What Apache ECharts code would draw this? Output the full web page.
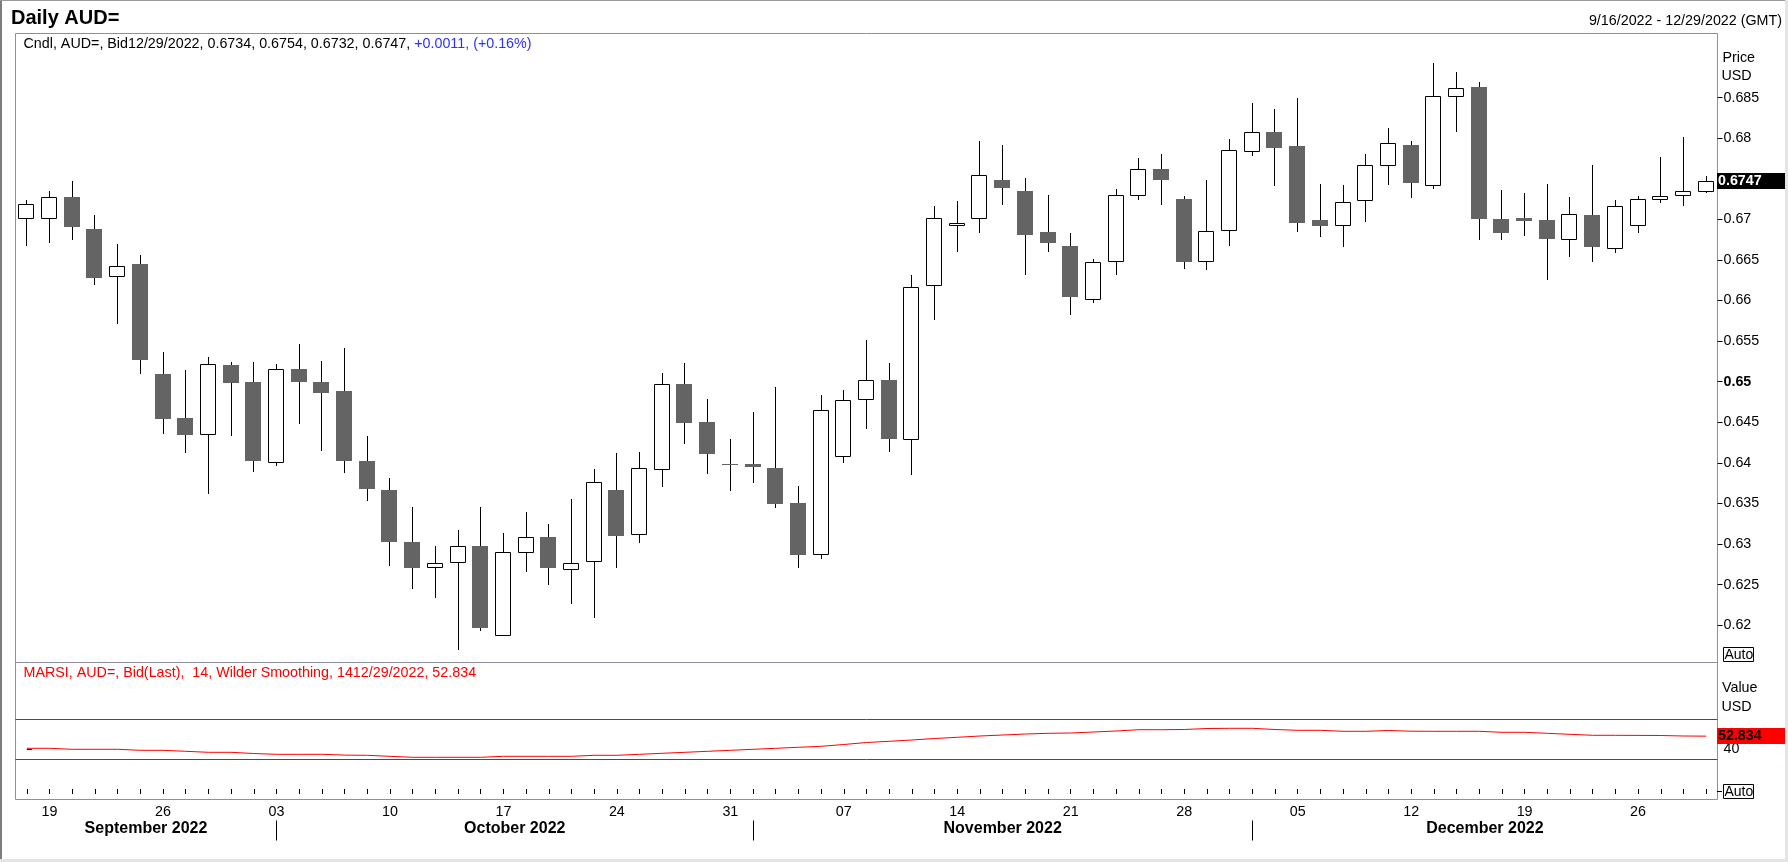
<!DOCTYPE html>
<html>
<head>
<meta charset="utf-8">
<script src="https://cdn.jsdelivr.net/npm/echarts@6/dist/echarts.min.js"></script>
<style>
html,body{margin:0;padding:0;background:#fff;}
#c{width:1788px;height:862px;}
</style>
</head>
<body>
<div id="c"></div>
<script>
// ---------- DATA ----------
const dates = [
  '2022-09-16',
  '2022-09-19','2022-09-20','2022-09-21','2022-09-22','2022-09-23',
  '2022-09-26','2022-09-27','2022-09-28','2022-09-29','2022-09-30',
  '2022-10-03','2022-10-04','2022-10-05','2022-10-06','2022-10-07',
  '2022-10-10','2022-10-11','2022-10-12','2022-10-13','2022-10-14',
  '2022-10-17','2022-10-18','2022-10-19','2022-10-20','2022-10-21',
  '2022-10-24','2022-10-25','2022-10-26','2022-10-27','2022-10-28',
  '2022-10-31','2022-11-01','2022-11-02','2022-11-03','2022-11-04',
  '2022-11-07','2022-11-08','2022-11-09','2022-11-10','2022-11-11',
  '2022-11-14','2022-11-15','2022-11-16','2022-11-17','2022-11-18',
  '2022-11-21','2022-11-22','2022-11-23','2022-11-24','2022-11-25',
  '2022-11-28','2022-11-29','2022-11-30','2022-12-01','2022-12-02',
  '2022-12-05','2022-12-06','2022-12-07','2022-12-08','2022-12-09',
  '2022-12-12','2022-12-13','2022-12-14','2022-12-15','2022-12-16',
  '2022-12-19','2022-12-20','2022-12-21','2022-12-22','2022-12-23',
  '2022-12-26','2022-12-27','2022-12-28','2022-12-29'
];
const opens = [
  0.6701,
  0.6700,0.6727,0.6688,0.6629,0.6645,
  0.6509,0.6455,0.6434,0.6521,0.6499,
  0.6400,0.6516,0.6500,0.6488,0.6402,
  0.6366,0.6303,0.6271,0.6277,0.6298,
  0.6187,0.6289,0.6309,0.6268,0.6278,
  0.6367,0.6311,0.6391,0.6497,0.6450,
  0.6398,0.6398,0.6394,0.6350,0.6287,
  0.6407,0.6477,0.6502,0.6428,0.6618,
  0.6692,0.6701,0.6749,0.6735,0.6684,
  0.6667,0.6601,0.6648,0.6729,0.6762,
  0.6725,0.6647,0.6686,0.6783,0.6808,
  0.6791,0.6699,0.6692,0.6723,0.6766,
  0.6792,0.6741,0.6851,0.6863,0.6700,
  0.6702,0.6699,0.6675,0.6705,0.6664,
  0.6692,0.6724,0.6729,0.6734
];
const closes = [
  0.6719,
  0.6727,0.6691,0.6628,0.6643,0.6527,
  0.6454,0.6434,0.6522,0.6498,0.6402,
  0.6516,0.6499,0.6486,0.6402,0.6368,
  0.6302,0.6270,0.6277,0.6298,0.6196,
  0.6290,0.6309,0.6270,0.6276,0.6377,
  0.6310,0.6394,0.6497,0.6449,0.6411,
  0.6398,0.6395,0.6349,0.6286,0.6465,
  0.6478,0.6502,0.6429,0.6617,0.6702,
  0.6696,0.6755,0.6739,0.6681,0.6671,
  0.6604,0.6648,0.6730,0.6762,0.6748,
  0.6647,0.6686,0.6786,0.6808,0.6788,
  0.6695,0.6692,0.6721,0.6767,0.6794,
  0.6745,0.6852,0.6862,0.6700,0.6683,
  0.6698,0.6676,0.6706,0.6666,0.6717,
  0.6725,0.6729,0.6735,0.6747
];
const highs = [
  0.6724,
  0.6735,0.6747,0.6705,0.6670,0.6656,
  0.6537,0.6514,0.6530,0.6524,0.6524,
  0.6522,0.6547,0.6526,0.6541,0.6433,
  0.6381,0.6346,0.6298,0.6317,0.6346,
  0.6313,0.6340,0.6325,0.6356,0.6393,
  0.6412,0.6413,0.6511,0.6523,0.6479,
  0.6429,0.6463,0.6493,0.6372,0.6483,
  0.6490,0.6551,0.6523,0.6631,0.6716,
  0.6723,0.6797,0.6792,0.6751,0.6730,
  0.6683,0.6651,0.6738,0.6776,0.6780,
  0.6729,0.6749,0.6799,0.6843,0.6836,
  0.6850,0.6744,0.6742,0.6780,0.6813,
  0.6797,0.6893,0.6881,0.6869,0.6736,
  0.6732,0.6744,0.6728,0.6767,0.6724,
  0.6729,0.6777,0.6801,0.6754
];
const lows = [
  0.6667,
  0.6671,0.6675,0.6619,0.6571,0.6509,
  0.6435,0.6412,0.6361,0.6433,0.6389,
  0.6396,0.6448,0.6414,0.6387,0.6353,
  0.6273,0.6244,0.6233,0.6170,0.6193,
  0.6187,0.6265,0.6249,0.6226,0.6209,
  0.6270,0.6301,0.6370,0.6423,0.6386,
  0.6365,0.6375,0.6344,0.6270,0.6281,
  0.6400,0.6442,0.6413,0.6385,0.6576,
  0.6660,0.6683,0.6718,0.6631,0.6660,
  0.6582,0.6597,0.6631,0.6724,0.6718,
  0.6639,0.6638,0.6667,0.6778,0.6741,
  0.6684,0.6678,0.6666,0.6697,0.6742,
  0.6726,0.6737,0.6808,0.6675,0.6674,
  0.6680,0.6625,0.6654,0.6647,0.6658,
  0.6683,0.6720,0.6716,0.6732
];
const rsi = [
  40.7,
  40.7,39.7,39.7,39.7,38.7,
  38.7,37.7,36.7,36.7,35.5,
  34.7,34.7,34.7,33.9,33.7,
  32.7,31.7,31.7,31.7,31.7,
  32.7,32.7,32.7,32.7,33.7,
  33.7,34.7,35.7,36.7,37.7,
  38.7,39.7,40.7,41.7,42.7,
  44.5,46.5,47.7,49.0,50.5,
  51.7,53.0,54.0,55.0,55.7,
  56.0,57.0,58.0,59.3,59.3,
  59.5,60.5,60.7,60.7,59.5,
  58.7,58.7,57.7,57.7,58.5,
  57.8,57.7,57.7,57.7,56.7,
  56.7,55.7,54.7,53.7,53.7,
  53.6,53.5,53.0,52.834
];
const rsiLevels = [70, 30];
const priceTicks = [0.62,0.625,0.63,0.635,0.64,0.645,0.65,0.655,0.66,0.665,0.67,0.675,0.68,0.685];
const boldPriceTick = 0.65;
const rsiTicks = [40];
const monthNames = {'09':'September 2022','10':'October 2022','11':'November 2022','12':'December 2022'};
const titleText = 'Daily AUD=';
const rangeText = '9/16/2022 - 12/29/2022 (GMT)';
const candleLegendBlack = 'Cndl, AUD=, Bid12/29/2022, 0.6734, 0.6754, 0.6732, 0.6747, ';
const candleLegendBlue = '+0.0011, (+0.16%)';
const rsiLegend = 'MARSI, AUD=, Bid(Last),  14, Wilder Smoothing, 1412/29/2022, 52.834';

// ---------- DERIVED ----------
const FONT = '"Liberation Sans", Arial, Helvetica, sans-serif';
const FS = 14.3;
const last = dates.length - 1;
const candleData = dates.map((d, i) => [i, opens[i], closes[i], lows[i], highs[i]]);
const isMonday = i => new Date(dates[i] + 'T00:00:00Z').getUTCDay() === 1;
const monthStarts = [];
dates.forEach((d, i) => { if (i > 0 && d.slice(5, 7) !== dates[i - 1].slice(5, 7)) monthStarts.push(i); });
const bounds = [-0.5].concat(monthStarts, [last + 0.5]);
const monthMids = [];
const monthMidNames = [];
for (let k = 0; k < bounds.length - 1; k++) {
  monthMids.push((bounds[k] + bounds[k + 1]) / 2);
  const firstIdx = k === 0 ? 0 : monthStarts[k - 1];
  monthMidNames.push(monthNames[dates[firstIdx].slice(5, 7)]);
}

const GRID_L = 15.5, GRID_W = 1702;

function renderCandle(params, api) {
  const i = api.value(0);
  const o = api.value(1), c = api.value(2), l = api.value(3), h = api.value(4);
  const pO = api.coord([i, o]), pC = api.coord([i, c]);
  const pH = api.coord([i, h]), pL = api.coord([i, l]);
  const bw = Math.round(api.size([1, 0])[0] * 0.7);
  const half = Math.floor(bw / 2);
  const cx = Math.floor(pO[0]);
  const up = c > o;
  const yTop = Math.round(Math.min(pO[1], pC[1]));
  const yBot = Math.round(Math.max(pO[1], pC[1]));
  const children = [{
    type: 'line',
    shape: { x1: cx + 0.5, y1: Math.round(pH[1]), x2: cx + 0.5, y2: Math.round(pL[1]) },
    style: { stroke: '#000', lineWidth: 1 }
  }];
  if (up) {
    children.push({
      type: 'rect',
      shape: { x: cx - half + 0.5, y: yTop + 0.5, width: bw - 1, height: Math.max(1, yBot - yTop - 1) },
      style: { fill: '#fff', stroke: '#000', lineWidth: 1 }
    });
  } else {
    children.push({
      type: 'rect',
      shape: { x: cx - half, y: yTop, width: bw, height: Math.max(1, yBot - yTop) },
      style: { fill: '#646464' }
    });
  }
  if (params.dataIndex === last) {
    const cs = params.coordSys;
    const yy = Math.round(pC[1]);
    children.push({
      type: 'rect', z2: 50,
      shape: { x: cs.x + cs.width - 0.5, y: yy - 8, width: 68, height: 16 },
      style: { fill: '#000' }
    });
    children.push({
      type: 'text', z2: 51,
      style: { x: cs.x + cs.width + 0.5, y: yy, text: c.toFixed(4), fill: '#fff',
        fontFamily: FONT, fontSize: FS, fontWeight: 'bold', align: 'left', verticalAlign: 'middle' }
    });
  }
  return { type: 'group', children: children };
}

function renderRsiTag(params, api) {
  const v = api.value(1);
  const p = api.coord([api.value(0), v]);
  const cs = params.coordSys;
  const yy = Math.round(p[1]);
  return { type: 'group', children: [
    { type: 'rect', shape: { x: cs.x + cs.width - 0.5, y: yy - 8, width: 68, height: 16 }, style: { fill: '#ff0000' } },
    { type: 'text', style: { x: cs.x + cs.width + 0.5, y: yy, text: v.toFixed(3), fill: '#000',
      fontFamily: FONT, fontSize: FS, fontWeight: 'bold', align: 'left', verticalAlign: 'middle' } }
  ]};
}

const chart = echarts.init(document.getElementById('c'), null, { renderer: 'canvas', width: 1788, height: 862 });

const option = {
  animation: false,
  backgroundColor: '#fff',
  textStyle: { fontFamily: FONT },
  grid: [
    { left: GRID_L, top: 33.5, width: GRID_W, height: 629, show: true, borderColor: '#8e8e9c', borderWidth: 1, backgroundColor: 'rgba(0,0,0,0)' },
    { left: GRID_L, top: 662.5, width: GRID_W, height: 137, show: true, borderColor: '#8e8e9c', borderWidth: 1, backgroundColor: 'rgba(0,0,0,0)' }
  ],
  xAxis: [
    { type: 'category', gridIndex: 0, data: dates, boundaryGap: true,
      axisLine: { show: false }, axisTick: { show: false }, axisLabel: { show: false }, splitLine: { show: false } },
    { type: 'category', gridIndex: 1, data: dates, boundaryGap: true,
      axisLine: { show: false }, splitLine: { show: false },
      axisTick: { show: true, alignWithLabel: true, interval: 0, length: 5, lineStyle: { color: '#000', width: 1 } },
      axisLabel: { interval: (idx) => isMonday(idx), formatter: v => v.slice(8, 10),
        color: '#000', fontSize: FS, fontFamily: FONT, margin: 6 } },
    { type: 'value', gridIndex: 1, position: 'bottom', offset: 21, min: -0.5, max: last + 0.5,
      axisLine: { show: false }, splitLine: { show: false },
      axisTick: { show: true, customValues: monthStarts, length: 20, lineStyle: { color: '#000', width: 1 } },
      axisLabel: { customValues: monthMids, margin: 0, color: '#000', fontSize: 16, fontWeight: 'bold', fontFamily: FONT,
        formatter: v => { const k = monthMids.findIndex(m => Math.abs(m - v) < 1e-6); return k >= 0 ? monthMidNames[k] : ''; } } }
  ],
  yAxis: [
    { type: 'value', gridIndex: 0, position: 'right', min: 0.6154, max: 0.6929,
      axisLine: { show: false }, splitLine: { show: false },
      axisTick: { show: true, customValues: priceTicks, length: 5, lineStyle: { color: '#000', width: 1 } },
      axisLabel: { customValues: priceTicks, margin: 6, color: '#000', fontSize: FS, fontFamily: FONT,
        formatter: v => { const s = String(+v.toFixed(3)); return Math.abs(v - boldPriceTick) < 1e-9 ? '{b|' + s + '}' : s; },
        rich: { b: { fontWeight: 'bold', fontSize: FS, color: '#000', fontFamily: FONT } } } },
    { type: 'value', gridIndex: 1, position: 'right', min: -10.5, max: 126.5,
      axisLine: { show: false }, splitLine: { show: false },
      axisTick: { show: true, customValues: rsiTicks, length: 5, lineStyle: { color: '#000', width: 1 } },
      axisLabel: { customValues: rsiTicks, margin: 6, color: '#000', fontSize: FS, fontFamily: FONT } }
  ],
  series: [
    { type: 'custom', name: 'Cndl', xAxisIndex: 0, yAxisIndex: 0, data: candleData,
      encode: { x: 0, y: [1, 2, 3, 4] }, renderItem: renderCandle, clip: false, z: 5 },
    { type: 'line', name: 'MARSI', xAxisIndex: 1, yAxisIndex: 1, data: rsi,
      symbol: 'none', lineStyle: { color: '#ff0000', width: 1 }, itemStyle: { color: '#ff0000' },
      markLine: { silent: true, symbol: ['none', 'none'], label: { show: false },
        lineStyle: { color: '#ff0000', width: 1, type: 'solid' },
        data: rsiLevels.map(v => ({ yAxis: v })) } },
    { type: 'custom', name: 'tag', xAxisIndex: 1, yAxisIndex: 1, data: [[last, rsi[last]]],
      encode: { x: 0, y: 1 }, renderItem: renderRsiTag, clip: false, z: 6 }
  ],
  graphic: [
    { type: 'rect', silent: true, shape: { x: 0, y: 0, width: 2, height: 862 }, style: { fill: '#7c7c7c' } },
    { type: 'rect', silent: true, shape: { x: 0, y: 0, width: 1788, height: 1 }, style: { fill: '#9a9a9a' } },
    { type: 'rect', silent: true, shape: { x: 1785, y: 0, width: 3, height: 862 }, style: { fill: '#e4e4e4' } },
    { type: 'rect', silent: true, shape: { x: 0, y: 859, width: 1788, height: 3 }, style: { fill: '#e4e4e4' } },
    { type: 'text', silent: true, style: { x: 11, y: 18, text: titleText, fill: '#000', fontFamily: FONT, fontSize: 20, fontWeight: 'bold', align: 'left', verticalAlign: 'middle' } },
    { type: 'text', silent: true, style: { x: 1782, y: 21, text: rangeText, fill: '#000', fontFamily: FONT, fontSize: FS, align: 'right', verticalAlign: 'middle' } },
    { type: 'text', silent: true, style: { x: 23.5, y: 44.5, text: '{k|' + candleLegendBlack + '}{b|' + candleLegendBlue + '}',
        fontFamily: FONT, fontSize: FS, align: 'left', verticalAlign: 'middle',
        rich: { k: { fill: '#000', fontFamily: FONT, fontSize: FS }, b: { fill: '#2f2fff', fontFamily: FONT, fontSize: FS } } } },
    { type: 'text', silent: true, style: { x: 23.5, y: 673.5, text: rsiLegend, fill: '#ff0000', fontFamily: FONT, fontSize: FS, align: 'left', verticalAlign: 'middle' } },
    { type: 'text', silent: true, style: { x: 1722.5, y: 58.5, text: 'Price', fill: '#000', fontFamily: FONT, fontSize: FS, align: 'left', verticalAlign: 'middle' } },
    { type: 'text', silent: true, style: { x: 1721.5, y: 76.5, text: 'USD', fill: '#000', fontFamily: FONT, fontSize: FS, align: 'left', verticalAlign: 'middle' } },
    { type: 'text', silent: true, style: { x: 1722, y: 688.5, text: 'Value', fill: '#000', fontFamily: FONT, fontSize: FS, align: 'left', verticalAlign: 'middle' } },
    { type: 'text', silent: true, style: { x: 1721.5, y: 707, text: 'USD', fill: '#000', fontFamily: FONT, fontSize: FS, align: 'left', verticalAlign: 'middle' } },
    { type: 'rect', silent: true, shape: { x: 1723.5, y: 647.5, width: 30, height: 14 }, style: { fill: '#fff', stroke: '#000', lineWidth: 1 } },
    { type: 'text', silent: true, style: { x: 1724.5, y: 655, text: 'Auto', fill: '#000', fontFamily: FONT, fontSize: 14, align: 'left', verticalAlign: 'middle' } },
    { type: 'rect', silent: true, shape: { x: 1723.5, y: 784.5, width: 30, height: 14 }, style: { fill: '#fff', stroke: '#000', lineWidth: 1 } },
    { type: 'text', silent: true, style: { x: 1724.5, y: 792, text: 'Auto', fill: '#000', fontFamily: FONT, fontSize: 14, align: 'left', verticalAlign: 'middle' } },
    { type: 'line', silent: true, shape: { x1: 1717, y1: 791.5, x2: 1722, y2: 791.5 }, style: { stroke: '#000', lineWidth: 1 } }
  ]
};
chart.setOption(option);
</script>
</body>
</html>
